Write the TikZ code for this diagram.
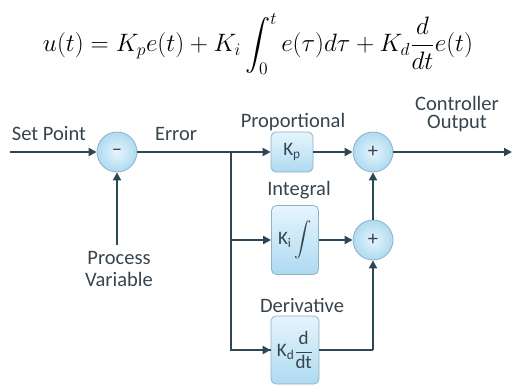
\documentclass[tikz,border=0pt]{standalone}
\usepackage{amsmath}
\usepackage{fontspec}
\setmainfont{Carlito}
\usetikzlibrary{arrows.meta}
\definecolor{linec}{HTML}{2E4756}
\definecolor{txtc}{HTML}{36444E}
\definecolor{edgec}{HTML}{8DB3C7}
\definecolor{fillin}{HTML}{E6F5FC}
\definecolor{fillout}{HTML}{AEDAF1}
\begin{document}
\begin{tikzpicture}[x=1pt,y=-1pt,
  every node/.style={font=\fontsize{20.5}{18}\selectfont, text=txtc},
  sumnode/.style={circle, minimum size=40pt, inner sep=0pt, draw=edgec, line width=0.8pt, inner color=fillin, outer color=fillout},
  block/.style={rounded corners=5pt, draw=edgec, line width=0.8pt, top color=fillin, bottom color=fillout, inner sep=0pt, font=\fontsize{19}{19}\selectfont},
  wire/.style={draw=linec, line width=2pt},
  arr/.style={wire, -{Triangle[length=8pt,width=8pt]}},
  lbl/.style={align=center, inner sep=0pt}]
\useasboundingbox (0,0) rectangle (515,386);
% equation
\node[inner sep=0pt, text=black] (eq) at (258,44) {\resizebox{430pt}{!}{$\displaystyle u(t)=K_pe(t)+K_i\int_0^t e(\tau)d\tau+K_d\frac{d}{dt}e(t)$}};
% nodes
\node[sumnode] (minus) at (117,152) {--};
\node[sumnode] (plus1) at (373,152) {+};
\node[sumnode] (plus2) at (373,240) {+};
\node[block, minimum width=42pt, minimum height=40pt] (Kp) at (292,152) {K\textsubscript{p}};
\node[block, minimum width=47pt, minimum height=69pt] (Ki) at (295,240) {K\textsubscript{i}\,$\displaystyle\int$};
\node[block, minimum width=48pt, minimum height=68pt] (Kd) at (295,350) {K\textsubscript{d}$\dfrac{\text{d}}{\text{dt}}$};
% coordinates
\coordinate (sp) at (10,152);
\coordinate (pv) at (117,245);
\coordinate (br) at (231,152);
\coordinate (out) at (512,152);
\coordinate (dcorner) at (373,350);
% labels
\node[lbl] (tsp) at (49,134) {Set Point};
\node[lbl] (terr) at (176,134) {Error};
\node[lbl] (tprop) at (293,122) {Proportional};
\node[lbl] (tco) at (457,114) {Controller\\Output};
\node[lbl] (tint) at (299,190) {Integral};
\node[lbl] (tder) at (302,305) {Derivative};
\node[lbl, anchor=north, font=\fontsize{20.5}{22}\selectfont] (tpv) at (119,251) {Process\\Variable};
% connectors
\draw[arr] (sp) -- (minus.west);
\draw[arr] (pv) -- (minus.south);
\draw[arr] (minus.east) -- (Kp.west);
\draw[wire] (br) |- (Kd.west);
\draw[arr] (br) |- (Ki.west);
\draw[arr] (br |- Kd.west) -- (Kd.west);
\draw[arr] (Kp.east) -- (plus1.west);
\draw[arr] (Ki.east) -- (plus2.west);
\draw[arr] (plus2.north) -- (plus1.south);
\draw[wire] (Kd.east) -- (dcorner);
\draw[arr] (dcorner) -- (plus2.south);
\draw[arr] (plus1.east) -- (out);
\end{tikzpicture}
\end{document}
